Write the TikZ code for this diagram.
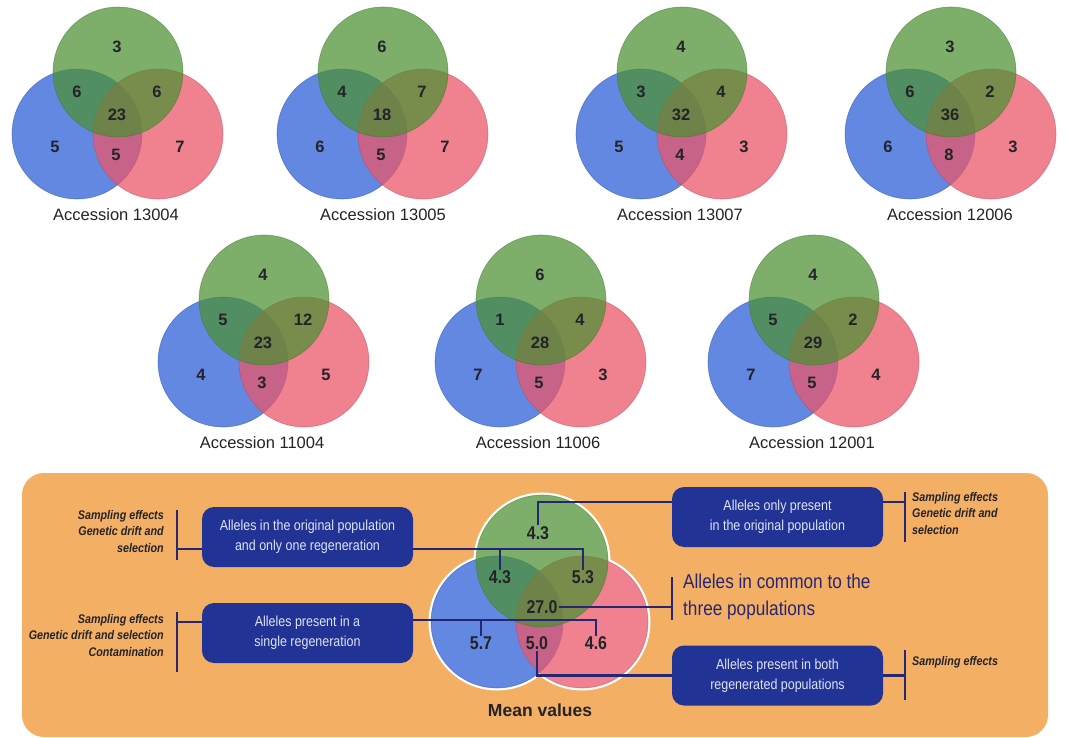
\documentclass[tikz,border=0pt]{standalone}
\usepackage{fontspec}
\setmainfont{Liberation Sans}
\newfontfamily\condfont[FakeStretch=0.86]{Liberation Sans}
\usetikzlibrary{calc}
\definecolor{vblue}{RGB}{45,95,215}
\definecolor{vred}{RGB}{235,85,105}
\definecolor{vgreen}{RGB}{75,145,50}
\definecolor{panel}{RGB}{243,175,100}
\definecolor{boxblue}{RGB}{33,52,150}
\definecolor{boxtext}{RGB}{222,226,242}
\definecolor{navy}{RGB}{38,38,115}
\definecolor{numc}{RGB}{35,35,40}
\tikzset{
  bluec/.style={fill=vblue, fill opacity=0.74, draw=vblue!80!black, draw opacity=0.5, line width=0.6pt},
  redc/.style={fill=vred, fill opacity=0.74, draw=vred!80!black, draw opacity=0.5, line width=0.6pt},
  greenc/.style={fill=vgreen, fill opacity=0.72, draw=vgreen!80!black, draw opacity=0.5, line width=0.6pt},
  num/.style={text=numc, font=\bfseries\fontsize{16.5}{20}\selectfont, inner sep=1pt},
  mnum/.style={text=numc, font=\condfont\bfseries\fontsize{18.5}{22}\selectfont, inner sep=1pt},
  acc/.style={text=numc, font=\fontsize{16.5}{20}\selectfont, inner sep=1pt},
  bluebox/.style={fill=boxblue, rounded corners=12pt, minimum width=211pt, minimum height=60pt,
    text=boxtext, align=center, font=\condfont\fontsize{14.5}{20}\selectfont, inner sep=2pt},
  conn/.style={draw=navy, line width=2.6pt},
  note/.style={text=numc, font=\condfont\bfseries\itshape\fontsize{12.5}{16.5}\selectfont, inner sep=0pt},
}
\newcommand\myvenn[9]{%
  \begin{scope}[shift={(#2)}]
    \path[bluec] (-41,62) circle[radius=65pt];
    \path[redc] (40,62) circle[radius=65pt];
    \path[greenc] (0,0) circle[radius=65pt];
    \node[num] (#1t) at (-1,-25) {#3};
    \node[num] (#1ul) at (-41,20) {#4};
    \node[num] (#1ur) at (39,20) {#5};
    \node[num] (#1c) at (-1,43) {#6};
    \node[num] (#1bl) at (-63,75) {#7};
    \node[num] (#1b) at (-2,83) {#8};
    \node[num] (#1br) at (62,75) {#9};
  \end{scope}}
\begin{document}
\begin{tikzpicture}[x=1pt,y=-1pt]
\useasboundingbox (0,0) rectangle (1069,738);
\fill[white] (0,0) rectangle (1069,738);

% top row
\myvenn{a}{118,72}{3}{6}{6}{23}{5}{5}{7}
\node[acc] (la) at (116,215) {Accession 13004};
\myvenn{b}{383,72}{6}{4}{7}{18}{6}{5}{7}
\node[acc] (lb) at (383,215) {Accession 13005};
\myvenn{c}{682,72}{4}{3}{4}{32}{5}{4}{3}
\node[acc] (lc) at (680,215) {Accession 13007};
\myvenn{d}{951,72}{3}{6}{2}{36}{6}{8}{3}
\node[acc] (ld) at (950,215) {Accession 12006};

% second row
\myvenn{e}{264,300}{4}{5}{12}{23}{4}{3}{5}
\node[acc] (le) at (262,443) {Accession 11004};
\myvenn{f}{541,300}{6}{1}{4}{28}{7}{5}{3}
\node[acc] (lf) at (538,443) {Accession 11006};
\myvenn{g}{814,300}{4}{5}{2}{29}{7}{5}{4}
\node[acc] (lg) at (812,443) {Accession 12001};

% panel
\fill[panel, rounded corners=22pt] (22,473) rectangle (1048,737);

% mean venn
\begin{scope}[shift={(542,561)}]
  \fill[white, draw=white, line width=5pt] (-45,61) circle[radius=66pt];
  \fill[white, draw=white, line width=5pt] (40,61) circle[radius=66pt];
  \fill[white, draw=white, line width=5pt] (0,0) circle[radius=66pt];
  \path[bluec] (-45,61) circle[radius=66pt];
  \path[redc] (40,61) circle[radius=66pt];
  \path[greenc] (0,0) circle[radius=66pt];
\end{scope}
\node[mnum] (mt) at (538,533) {4.3};
\node[mnum] (mul) at (500,577) {4.3};
\node[mnum] (mur) at (583,577) {5.3};
\node[mnum] (mc) at (542,607) {27.0};
\node[mnum] (mbl) at (481,643) {5.7};
\node[mnum] (mb) at (537,643) {5.0};
\node[mnum] (mbr) at (596,643) {4.6};
\node[text=numc, font=\bfseries\fontsize{17.5}{20}\selectfont, inner sep=1pt] (mean) at (540,710) {Mean values};

% boxes
\node[bluebox] (box1) at (777.5,517) {Alleles only present\\in the original population};
\node[bluebox] (box3) at (777.5,675.5) {Alleles present in both\\regenerated populations};
\node[bluebox] (box4) at (307.5,537) {Alleles in the original population\\and only one regeneration};
\node[bluebox] (box5) at (307.5,633) {Alleles present in a\\single regeneration};

% right side notes and brackets
\coordinate (b1t) at (905,492);
\coordinate (b1b) at (905,542);
\draw[conn] (b1t) -- (b1b);
\node[note, anchor=north west, align=left] (n1) at (912,492) {Sampling effects\\Genetic drift and\\selection};
\coordinate (b3t) at (905,650);
\coordinate (b3b) at (905,700);
\draw[conn] (b3t) -- (b3b);
\node[note, anchor=west] (n3) at (912,662) {Sampling effects};
\coordinate (b2t) at (672,577);
\coordinate (b2b) at (672,620);
\draw[conn] (b2t) -- (b2b);
\node[text=navy, font=\condfont\fontsize{20}{27}\selectfont, anchor=north west, align=left, inner sep=0pt] (common) at (683,574) {Alleles in common to the\\three populations};

% left side notes and brackets
\coordinate (b4t) at (177,510);
\coordinate (b4b) at (177,560);
\draw[conn] (b4t) -- (b4b);
\node[note, anchor=north east, align=right] (n4) at (164,510) {Sampling effects\\Genetic drift and\\selection};
\coordinate (b5t) at (177,612);
\coordinate (b5b) at (177,672);
\draw[conn] (b5t) -- (b5b);
\node[note, anchor=north east, align=right] (n5) at (164,614) {Sampling effects\\Genetic drift and selection\\Contamination};

% connectors
\coordinate (j1) at ([yshift=15pt]box1.west);
\draw[conn] (mt.north) |- (j1);
\coordinate (j1r) at ([yshift=15pt]box1.east);
\draw[conn] (j1r) -- (j1r -| b1t);
\draw[conn] (mb.south) |- (box3.west);
\draw[conn] (box3.east) -- (box3.east -| b3t);
\draw[conn] (mc.east) -- (mc.east -| b2t);
\coordinate (j4) at ([yshift=-12pt]box4.east);
\draw[conn] (j4) -| ([yshift=-1pt]mur.north);
\draw[conn] ([yshift=-1pt]mul.north) -- (mul.north |- j4);
\coordinate (j4l) at ([yshift=-12pt]box4.west);
\draw[conn] (j4l) -- (j4l -| b4t);
\coordinate (j5) at ([yshift=13pt]box5.east);
\draw[conn] (j5) -| ([yshift=-1pt]mbr.north);
\draw[conn] ([yshift=-1pt]mbl.north) -- (mbl.north |- j5);
\coordinate (j5l) at ([yshift=11pt]box5.west);
\draw[conn] (j5l) -- (j5l -| b5t);
\end{tikzpicture}
\end{document}
